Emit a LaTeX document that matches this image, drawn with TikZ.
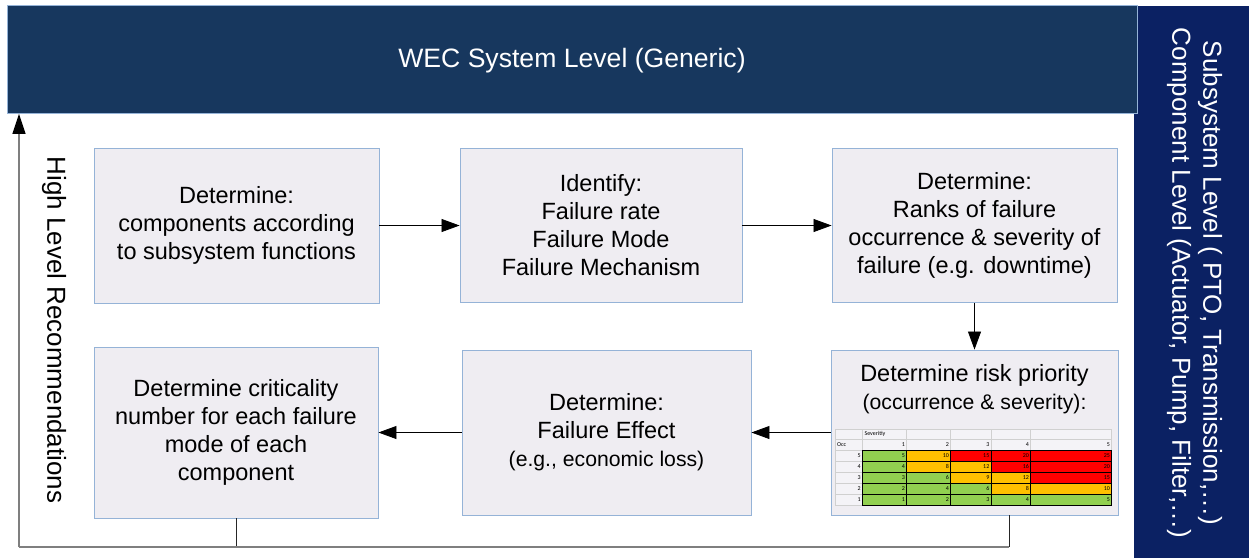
\documentclass[tikz,border=0pt]{standalone}
\usepackage{fontspec}
\setmainfont{Liberation Sans}
\newfontfamily\tabfont{Carlito}
\usetikzlibrary{arrows.meta}

\definecolor{banner}{HTML}{17375E}
\definecolor{panel}{HTML}{0B2163}
\definecolor{boxfill}{HTML}{EFEDF2}
\definecolor{boxline}{HTML}{95B3D7}
\definecolor{cellg}{HTML}{92D050}
\definecolor{cello}{HTML}{FFC000}
\definecolor{cellr}{HTML}{FF0000}
\definecolor{busgray}{HTML}{7F7F7F}
\definecolor{gridgray}{HTML}{D0D0D0}
\definecolor{tablebg}{HTML}{F4F3F7}

\begin{document}
\begin{tikzpicture}[x=1pt,y=-1pt,
  stepbox/.style={draw=boxline, fill=boxfill, line width=0.9pt, inner sep=0pt,
    align=center, font=\fontsize{23.5}{28}\selectfont},
  flow/.style={line width=0.8pt, -{Triangle[length=18pt,width=13pt]}},
  tick/.style={line width=0.8pt, black!85},
  gridline/.style={draw=gridgray, line width=0.6pt},
  tabtxt/.style={inner sep=0pt, font=\tabfont\fontsize{6}{7}\selectfont},
  sidetext/.style={rotate=-90, align=center, font=\fontsize{26}{31}\selectfont}
]
\useasboundingbox (0,0) rectangle (1249,558);
\fill[white] (0,0) rectangle (1249,558);

% right-hand level panel
\node[fill=panel, minimum width=115pt, minimum height=552pt, inner sep=0pt,
      anchor=north west] (panel) at (1134,6) {};
\node[sidetext, text=white] (paneltext) at (1194.5,283)
  {Subsystem Level ( PTO, Transmission,…)\\Component Level (Actuator, Pump, Filter,…)};

% top system-level banner
\node[draw=boxline, fill=banner, line width=0.9pt, minimum width=1130pt,
      minimum height=108pt, inner sep=0pt, anchor=north west] (banner) at (7,5) {};
\node[text=white, inner sep=0pt, font=\fontsize{26.6}{30}\selectfont] (bannertext)
  at (572,61) {WEC System Level (Generic)};

% process steps
\node[stepbox, minimum width=285pt, minimum height=155pt] (box1) at (236.5,225.5)
  {Determine:\\components according\\to subsystem functions};
\node[stepbox, minimum width=282pt, minimum height=154pt] (box2) at (601,225.5)
  {Identify:\\Failure rate\\Failure Mode\\Failure Mechanism};
\node[stepbox, minimum width=285pt, minimum height=154pt] (box3) at (974.5,225.5)
  {Determine:\\Ranks of failure\\occurrence \& severity of\\failure (e.g. downtime)};
\node[stepbox, minimum width=287pt, minimum height=165pt] (box6) at (974.5,432.5) {};
\node[stepbox, minimum width=289pt, minimum height=165pt] (box5) at (606.5,432.5)
  {Determine:\\Failure Effect\\{\fontsize{21.2}{26}\selectfont (e.g., economic loss)}};
\node[stepbox, minimum width=284pt, minimum height=171pt] (box4) at (236,432.5)
  {Determine criticality\\number for each failure\\mode of each\\component};

% risk priority heading
\node[align=center, inner sep=0pt, font=\fontsize{23.5}{28}\selectfont] (risktext) at (974.5,389)
  {Determine risk priority\\{\fontsize{21.2}{26}\selectfont (occurrence \& severity):}};

% risk matrix
\def\cx{{835,862.3,906.7,950.7,991,1030.7,1111.7}}
\def\ry{{429,439.5,450,461,472,483,494,505}}
\fill[tablebg] (835,429) rectangle (1111.7,505);
\foreach \i in {0,...,5} \foreach \k in {0,1} {
  \pgfmathsetmacro\xa{\cx[\i]}\pgfmathsetmacro\xb{\cx[\i+1]}
  \pgfmathsetmacro\ya{\ry[\k]}\pgfmathsetmacro\yb{\ry[\k+1]}
  \draw[gridline] (\xa,\ya) rectangle (\xb,\yb);
}
\node[tabtxt, anchor=west] (sevlabel) at (864.3,434.25) {Severitiy};
\node[tabtxt, anchor=west] (occlabel) at (837,444.75) {Occ};
\foreach \j in {1,...,5} {
  \pgfmathsetmacro\xb{\cx[\j+1]}
  \node[tabtxt, anchor=east] (sev\j) at (\xb-1.5,444.75) {\j};
}
\foreach \k/\occ/\vals in {
    2/5/{5/g,10/o,15/r,20/r,25/r},
    3/4/{4/g,8/o,12/o,16/r,20/r},
    4/3/{3/g,6/g,9/o,12/o,15/r},
    5/2/{2/g,4/g,6/g,8/o,10/o},
    6/1/{1/g,2/g,3/g,4/g,5/g}} {
  \pgfmathsetmacro\ya{\ry[\k]}\pgfmathsetmacro\yb{\ry[\k+1]}
  \pgfmathsetmacro\ym{(\ya+\yb)/2}
  \draw[gridline] (835,\ya) rectangle (862.3,\yb);
  \node[tabtxt, anchor=east] (occ\occ) at (860.8,\ym) {\occ};
  \foreach \v/\c [count=\j] in \vals {
    \pgfmathsetmacro\xa{\cx[\j]}\pgfmathsetmacro\xb{\cx[\j+1]}
    \filldraw[fill=cell\c, draw=black, line width=0.7pt] (\xa,\ya) rectangle (\xb,\yb);
    \node[tabtxt, anchor=east] (cell\occ-\j) at (\xb-1.5,\ym) {\v};
  }
}

% flow between the steps
\draw[flow] (box1) -- (box2);
\draw[flow] (box2) -- (box3);
\draw[flow] (box3) -- (box6);
\draw[flow] (box6) -- (box5);
\draw[flow] (box5) -- (box4);

% feedback to the system level
\coordinate (fbl) at (19,547);
\coordinate (fbr) at (1009,547);
\draw[tick] (box4.south) -- (box4.south |- fbl);
\draw[tick] (box6.south -| fbr) -- (fbr);
\draw[busgray, line width=2pt] (fbl) -- (fbr);
\draw[busgray, line width=1.3pt, -{Triangle[length=20pt,width=13pt,color=black]}]
  (fbl) -- (fbl |- banner.south);
\node[sidetext] (hlr) at (54,330) {High Level Recommendations};
\end{tikzpicture}
\end{document}
